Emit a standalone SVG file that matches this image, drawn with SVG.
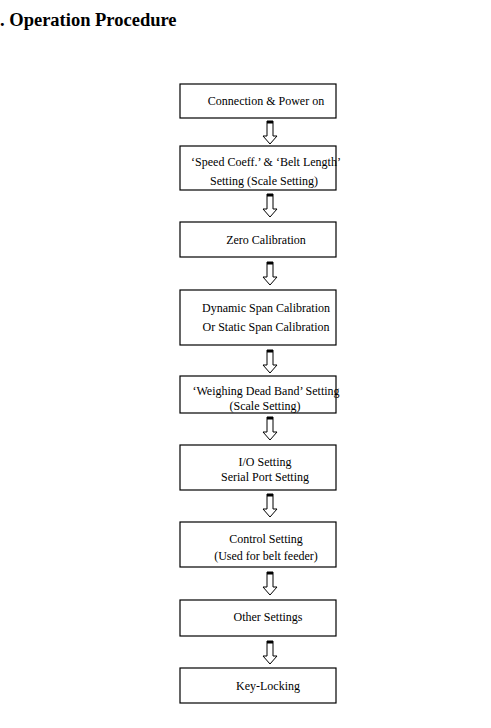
<svg xmlns="http://www.w3.org/2000/svg" width="491" height="728" viewBox="0 0 491 728">
<defs>
<style>
.box{fill:#fff;stroke:#000;stroke-width:1.2}
.t{font-family:"Liberation Serif","Times New Roman",serif;font-size:12px;text-anchor:middle;fill:#000}
.title{font-family:"Liberation Serif","Times New Roman",serif;font-size:18.5px;font-weight:bold;fill:#000}
.ar{fill:#fff;stroke:#000;stroke-width:1}
.bar{fill:#000}
</style>
<g id="arrow">
<path class="ar" d="M-3,0 H3 V15 H7 L0,23 L-7,15 H-3 Z"/>
<rect class="bar" x="-3" y="0" width="6" height="2.5"/>
</g>
</defs>
<rect width="491" height="728" fill="#fff"/>
<text class="title" x="0" y="26">. Operation Procedure</text>
<g id="n1"><rect class="box" x="180" y="84" width="156" height="34"/><text class="t" x="266" y="105">Connection &amp; Power on</text></g>
<g id="n2"><rect class="box" x="180" y="146" width="156" height="44"/><text class="t" x="266" y="166">‘Speed Coeff.’ &amp; ‘Belt Length’</text><text class="t" x="264" y="185">Setting (Scale Setting)</text></g>
<g id="n3"><rect class="box" x="180" y="222" width="156" height="35"/><text class="t" x="266" y="244">Zero Calibration</text></g>
<g id="n4"><rect class="box" x="180" y="290" width="156" height="55"/><text class="t" x="266" y="312">Dynamic Span Calibration</text><text class="t" x="266" y="331">Or Static Span Calibration</text></g>
<g id="n5"><rect class="box" x="180" y="376" width="156" height="37"/><text class="t" x="266" y="395">‘Weighing Dead Band’ Setting</text><text class="t" x="265" y="410">(Scale Setting)</text></g>
<g id="n6"><rect class="box" x="180" y="445" width="156" height="45"/><text class="t" x="265" y="466">I/O Setting</text><text class="t" x="265" y="481">Serial Port Setting</text></g>
<g id="n7"><rect class="box" x="180" y="522" width="156" height="45"/><text class="t" x="266" y="543">Control Setting</text><text class="t" x="266" y="560">(Used for belt feeder)</text></g>
<g id="n8"><rect class="box" x="180" y="600" width="156" height="36"/><text class="t" x="268" y="621">Other Settings</text></g>
<g id="n9"><rect class="box" x="180" y="668" width="156" height="35"/><text class="t" x="268" y="690">Key-Locking</text></g>
<g id="connectors">
<use href="#arrow" x="270" y="121"/>
<use href="#arrow" x="270" y="194"/>
<use href="#arrow" x="270" y="262"/>
<use href="#arrow" x="270" y="350"/>
<use href="#arrow" x="270" y="417"/>
<use href="#arrow" x="270" y="494"/>
<use href="#arrow" x="270" y="572"/>
<use href="#arrow" x="270" y="641"/>
</g>
</svg>
